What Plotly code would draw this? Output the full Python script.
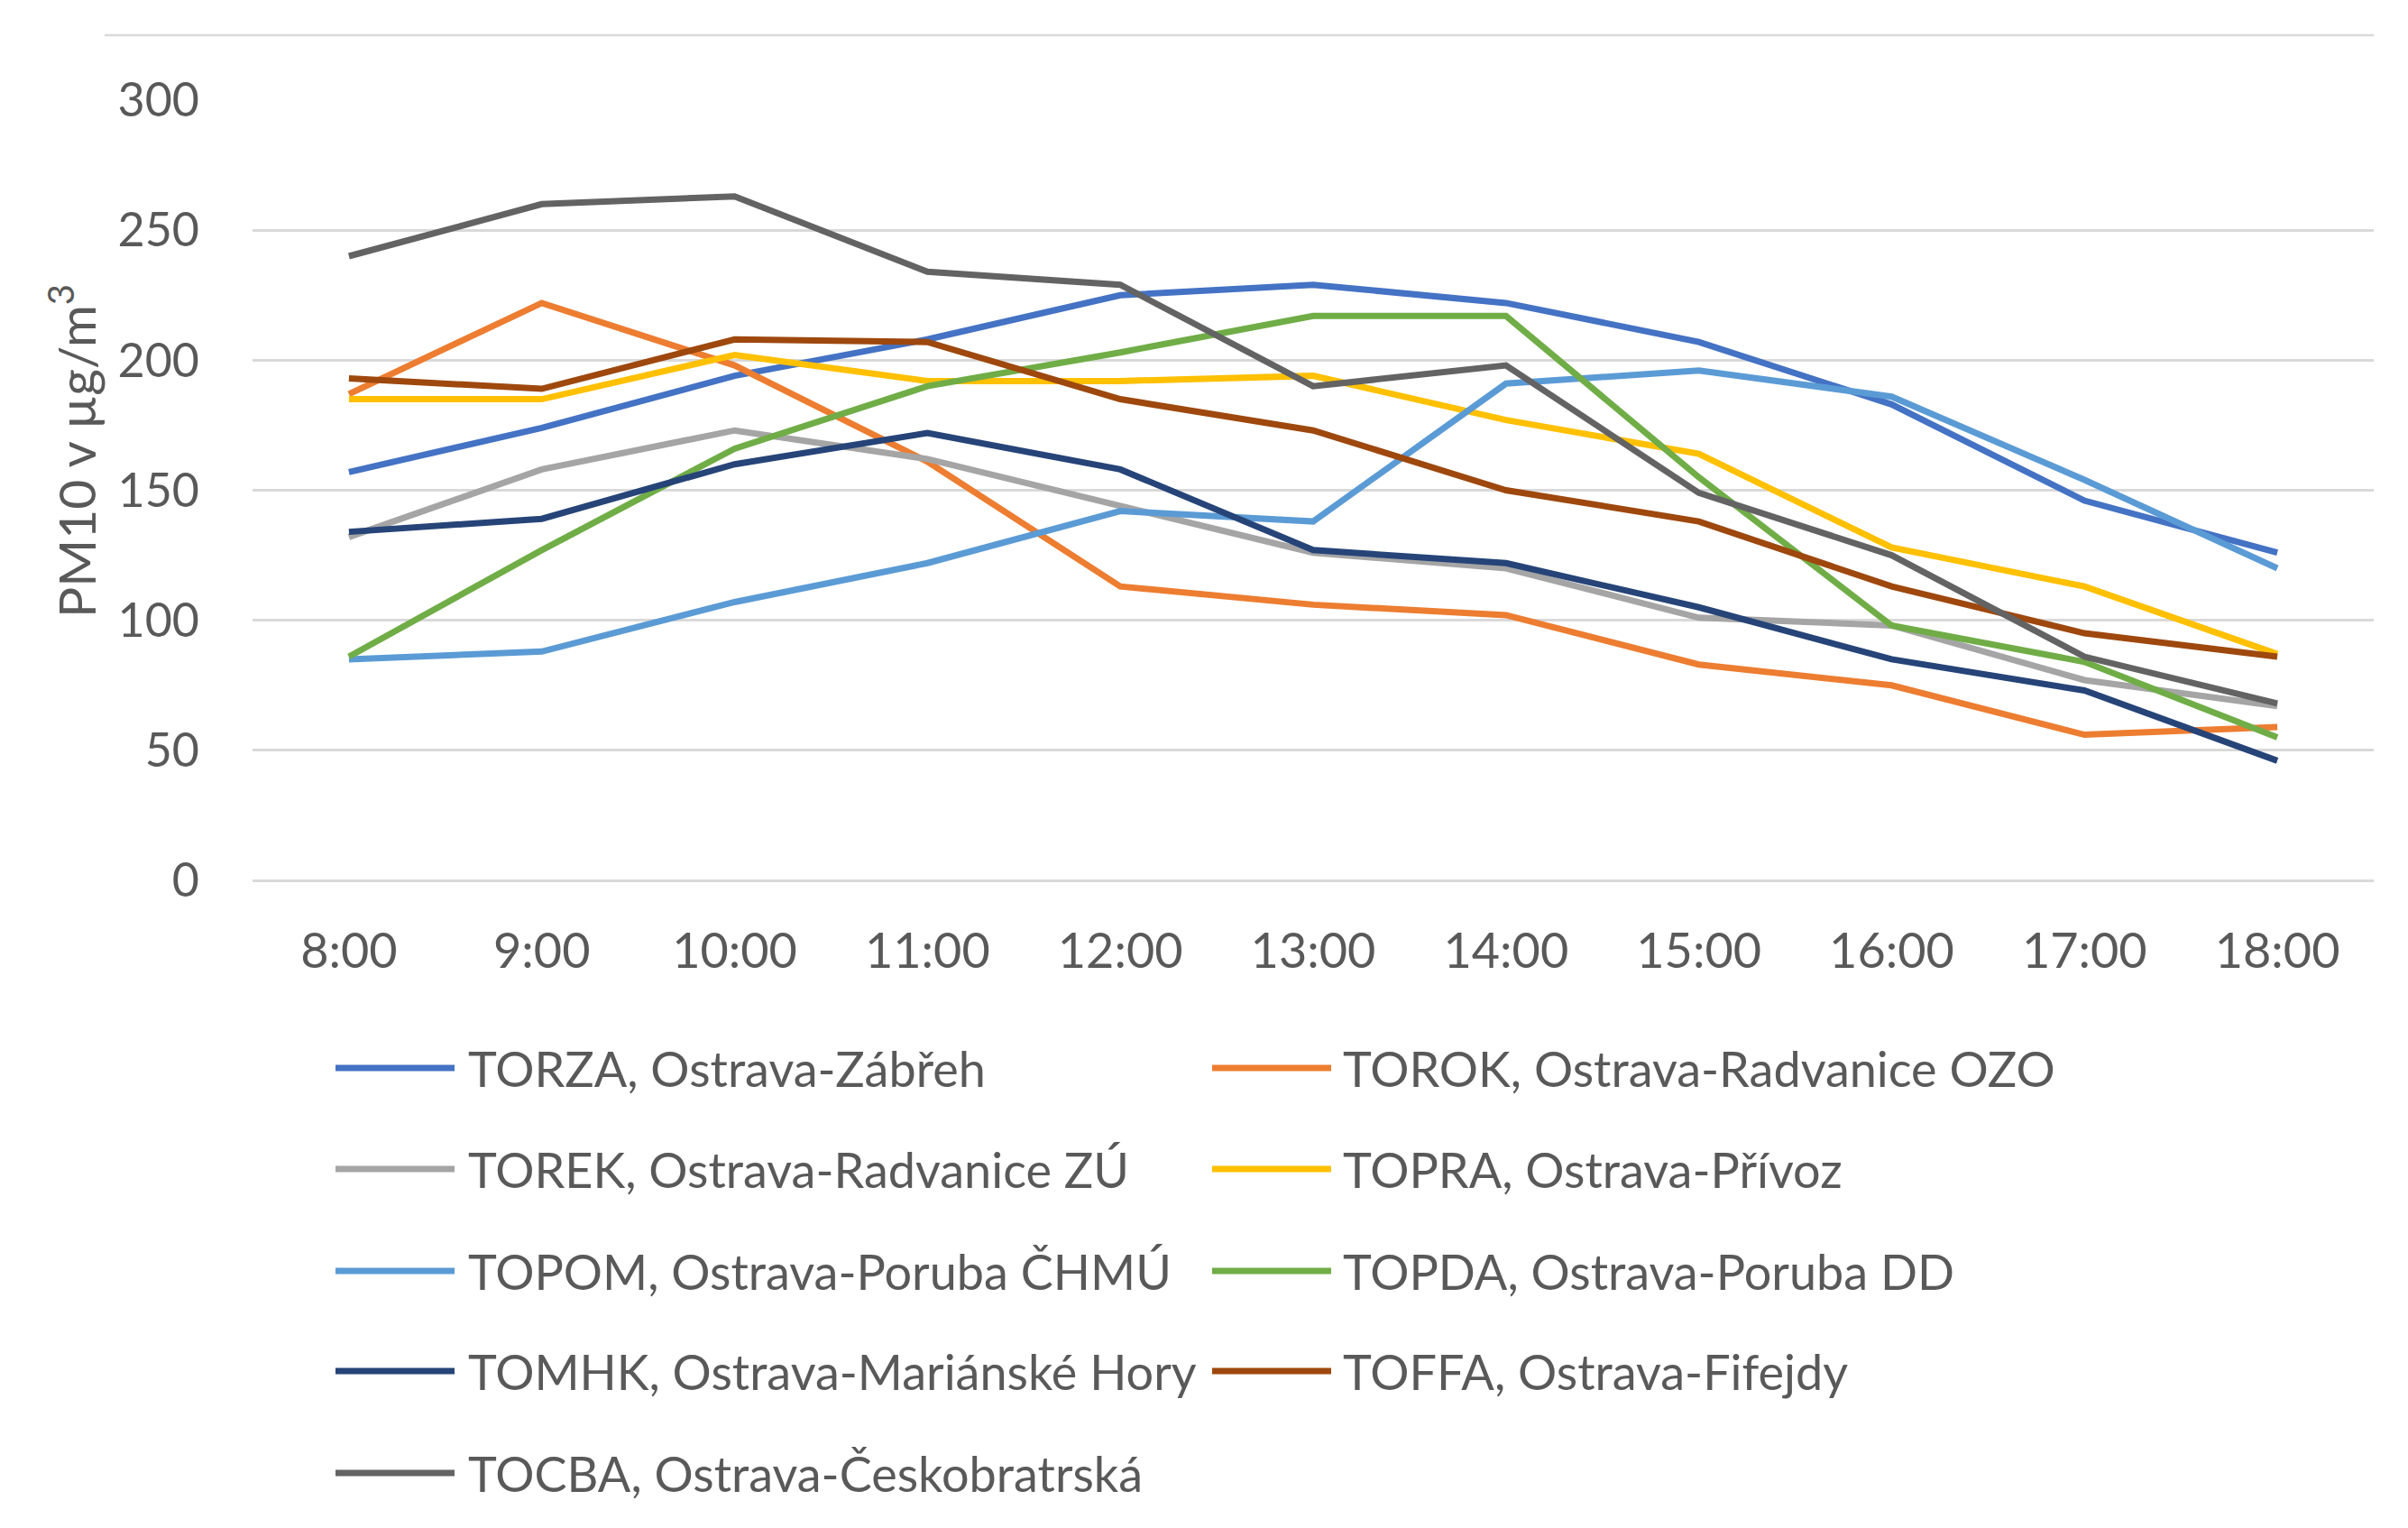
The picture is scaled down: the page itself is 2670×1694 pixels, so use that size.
import plotly.graph_objects as go

hours = ["8:00", "9:00", "10:00", "11:00", "12:00", "13:00", "14:00", "15:00", "16:00", "17:00", "18:00"]

names = [
    "TORZA, Ostrava-Zábřeh",
    "TOROK, Ostrava-Radvanice OZO",
    "TOREK, Ostrava-Radvanice ZÚ",
    "TOPRA, Ostrava-Přívoz",
    "TOPOM, Ostrava-Poruba ČHMÚ",
    "TOPDA, Ostrava-Poruba DD",
    "TOMHK, Ostrava-Mariánské Hory",
    "TOFFA, Ostrava-Fifejdy",
    "TOCBA, Ostrava-Českobratrská",
]

TORZA = [157, 174, 194, 208, 225, 229, 222, 207, 183, 146, 126]
TOROK = [187, 222, 198, 161, 113, 106, 102, 83, 75, 56, 59]
TOREK = [132, 158, 173, 162, 144, 126, 120, 101, 98, 77, 67]
TOPRA = [185, 185, 202, 192, 192, 194, 177, 164, 128, 113, 87]
TOPOM = [85, 88, 107, 122, 142, 138, 191, 196, 186, 154, 120]
TOPDA = [86, 127, 166, 190, 203, 217, 217, 155, 98, 84, 55]
TOMHK = [134, 139, 160, 172, 158, 127, 122, 105, 85, 73, 46]
TOFFA = [193, 189, 208, 207, 185, 173, 150, 138, 113, 95, 86]
TOCBA = [240, 260, 263, 234, 229, 190, 198, 149, 125, 86, 68]

series = [TORZA, TOROK, TOREK, TOPRA, TOPOM, TOPDA, TOMHK, TOFFA, TOCBA]
colors = ["#4472C4", "#ED7D31", "#A5A5A5", "#FFC000", "#5B9BD5",
          "#70AD47", "#264478", "#9E480E", "#636363"]

y_ticks = [0, 50, 100, 150, 200, 250, 300]
y_title = "PM10 v µg/m<sup>3</sup>"

W, H = 2670, 1694
L, R, T, B = 272, 46, 103, 726
pw = W - L - R
ph = H - T - B


def px(x):
    return (x - L) / pw


def py(y):
    return (H - B - y) / ph


FONT = "Lato, Carlito, Calibri, sans-serif"
TXT = "#595959"
GRID = "#D9D9D9"

fig = go.Figure()
for n, c, v in zip(names, colors, series):
    fig.add_trace(go.Scatter(x=hours, y=v, name=n, mode="lines",
                             line=dict(color=c, width=7),
                             showlegend=False))

shapes = []
annotations = []

# top border line
shapes.append(dict(type="line", xref="paper", yref="paper",
                   x0=px(108), x1=1.0, y0=py(31), y1=py(31),
                   line=dict(color=GRID, width=2.5)))

# y-axis title
annotations.append(dict(xref="paper", yref="paper", x=px(72), y=py(492),
                        text=y_title, textangle=-90, showarrow=False,
                        xanchor="center", yanchor="middle",
                        font=dict(family=FONT, size=57, color=TXT)))

# manual legend (two columns)
col_line_x = [364, 1336]
line_len = 132
col_text_x = [509, 1479]
row_y = [1176, 1288, 1401, 1512, 1625]
for i, (n, c) in enumerate(zip(names, colors)):
    r, col = divmod(i, 2)
    y = py(row_y[r])
    shapes.append(dict(type="line", xref="paper", yref="paper",
                       x0=px(col_line_x[col]), x1=px(col_line_x[col] + line_len),
                       y0=y, y1=y, line=dict(color=c, width=7)))
    annotations.append(dict(xref="paper", yref="paper", x=px(col_text_x[col]), y=y,
                            text=n, showarrow=False, xanchor="left", yanchor="middle",
                            font=dict(family=FONT, size=54, color=TXT)))

fig.update_layout(
    width=W, height=H,
    margin=dict(l=L, r=R, t=T, b=B, autoexpand=False),
    paper_bgcolor="white", plot_bgcolor="white",
    font=dict(family=FONT, color=TXT, size=52),
    shapes=shapes, annotations=annotations,
    showlegend=False,
)
fig.update_xaxes(type="category", range=[-0.5, 10.5], showgrid=False,
                 showline=False, ticks="", ticklabelstandoff=42,
                 tickfont=dict(family=FONT, size=54, color=TXT))
fig.update_yaxes(range=[0, 300], tickvals=y_ticks, showgrid=True, gridcolor=GRID,
                 gridwidth=2.5, zeroline=True, zerolinecolor=GRID, zerolinewidth=2.5,
                 showline=False, ticks="", ticklabelstandoff=58,
                 tickfont=dict(family=FONT, size=52, color=TXT))

fig.write_html("out.html")
